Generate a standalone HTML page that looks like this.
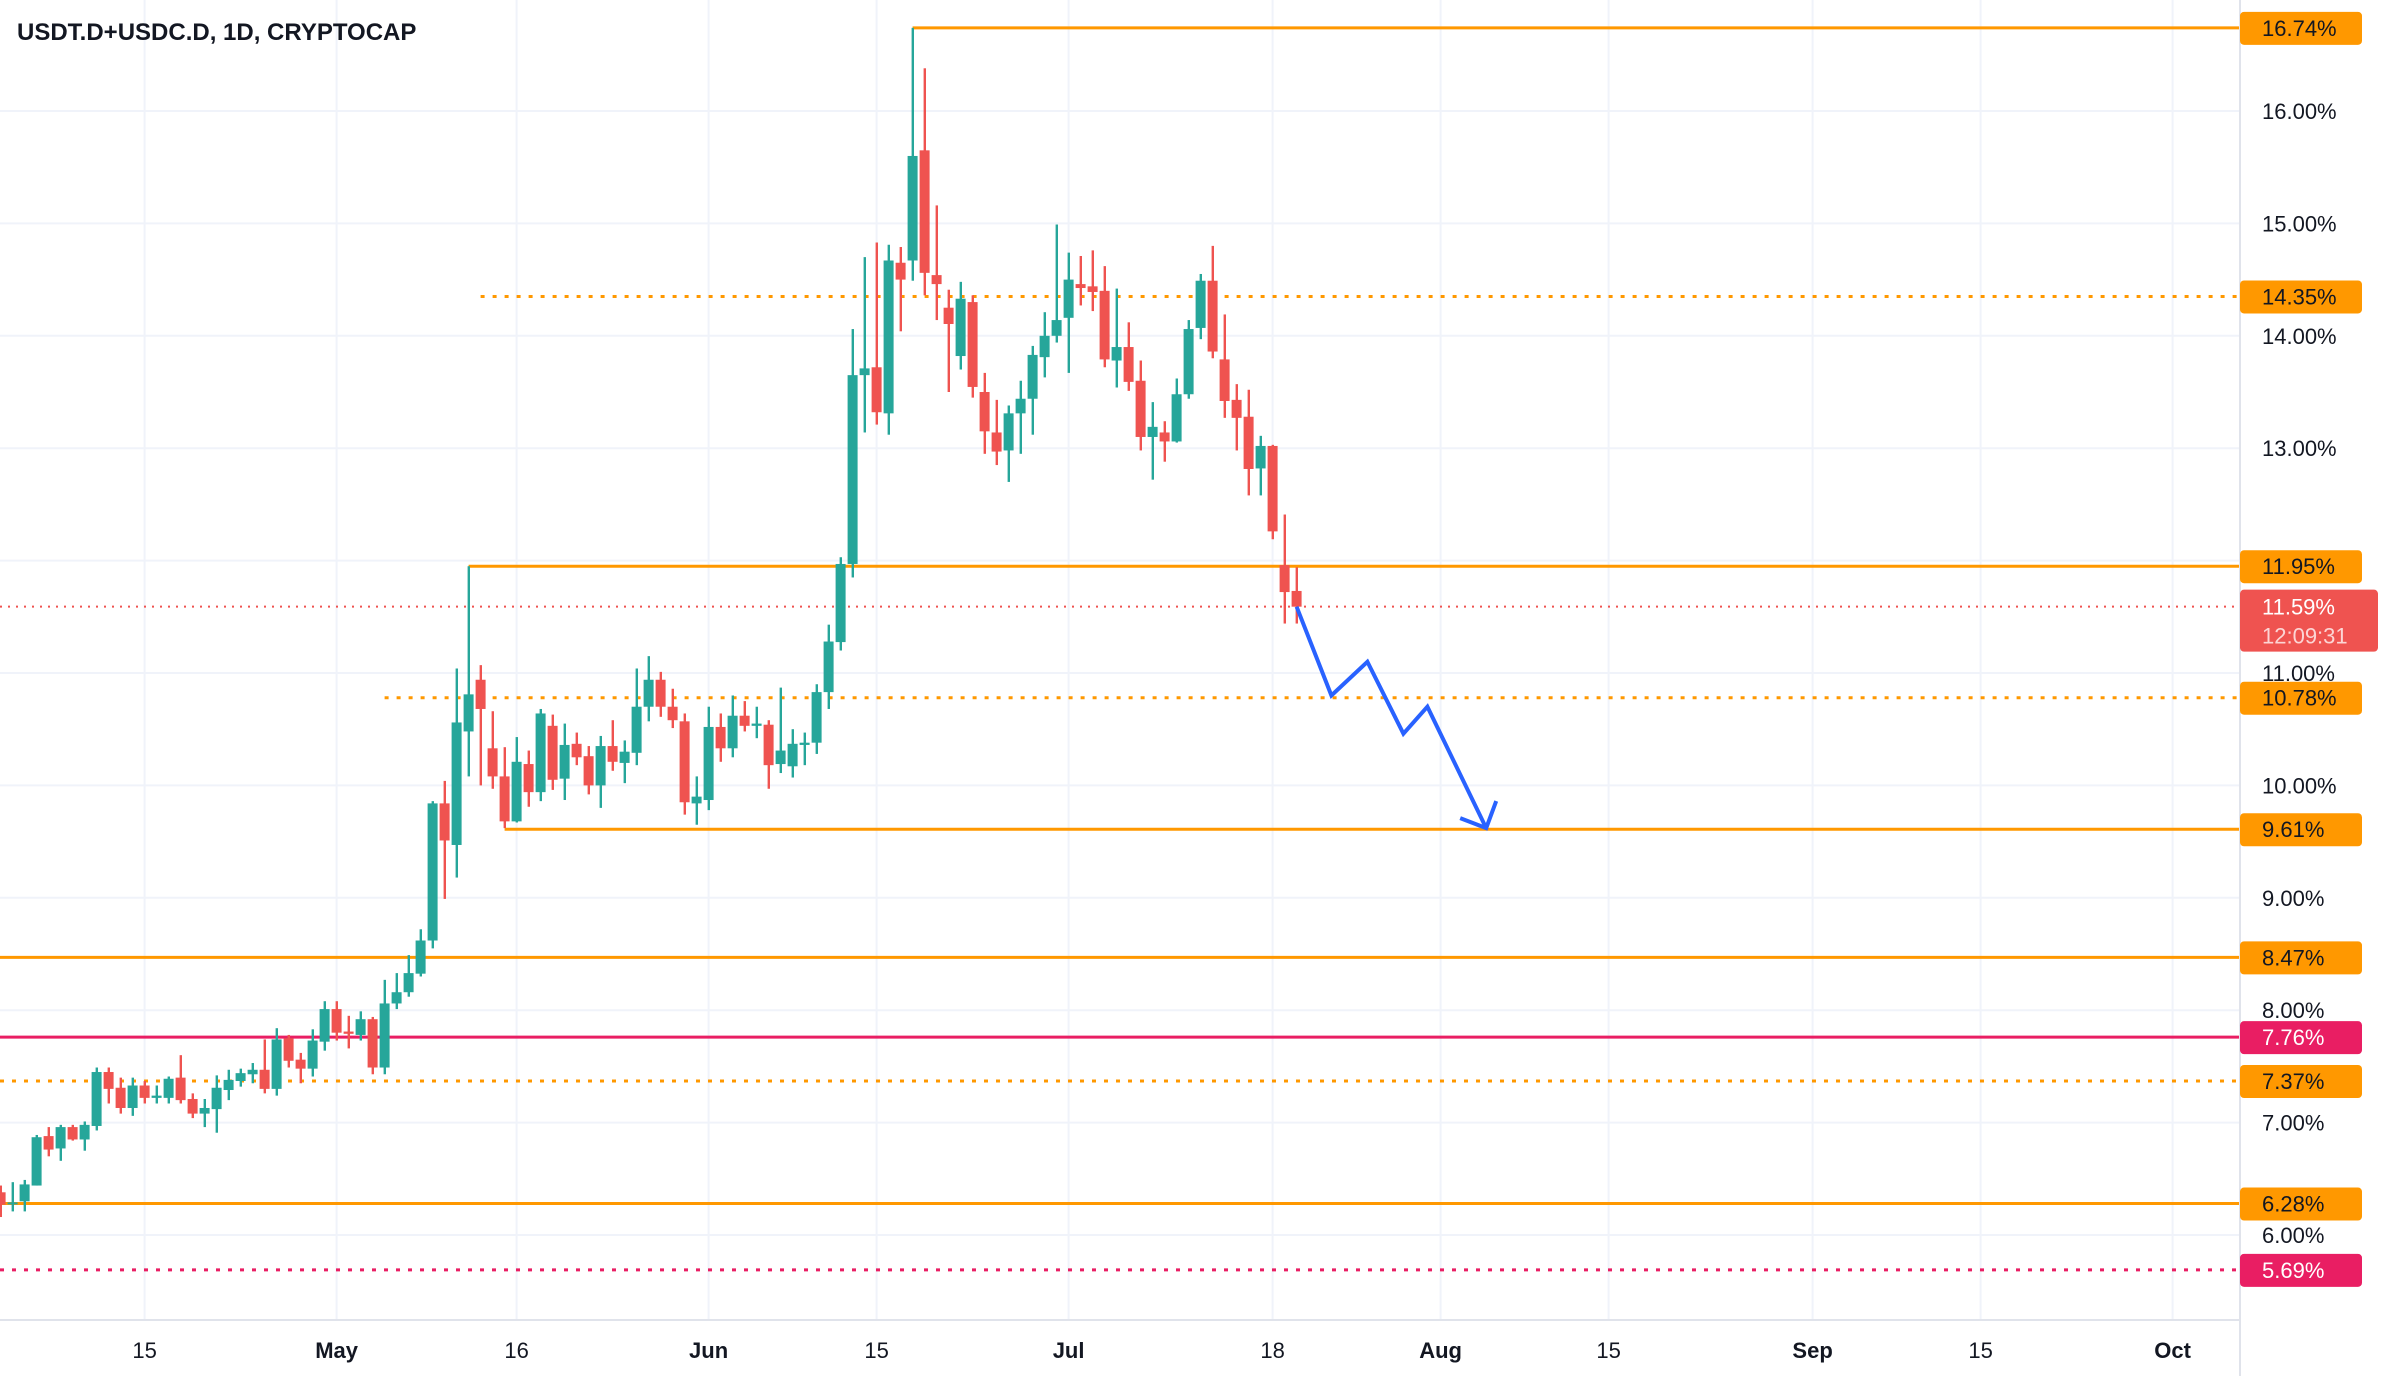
<!DOCTYPE html>
<html><head><meta charset="utf-8"><style>
html,body{margin:0;padding:0;background:#fff;}
svg{display:block;font-family:"Liberation Sans",sans-serif;}
</style></head><body>
<svg id="chart" width="2388" height="1376" viewBox="0 0 2388 1376" xmlns="http://www.w3.org/2000/svg">
<rect x="0" y="0" width="2388" height="1376" fill="#ffffff"/>
<g id="grid"></g>
<g id="levels"></g>
<g id="candles"></g>
<g id="proj"></g>
<line x1="2240" y1="0" x2="2240" y2="1376" stroke="#e0e3eb" stroke-width="2"/>
<line x1="0" y1="1320" x2="2240" y2="1320" stroke="#e0e3eb" stroke-width="2"/>
<g id="yaxis"></g>
<g id="xaxis"></g>
<text x="17" y="40" font-size="24" font-weight="bold" fill="#131722">USDT.D+USDC.D, 1D, CRYPTOCAP</text>
</svg>
<script>
// Daily candles Apr 3 .. Jul 20
const opens=[6.38,6.28,6.30,6.44,6.88,6.77,6.96,6.85,6.97,7.45,7.31,7.13,7.33,7.22,7.22,7.40,7.21,7.08,7.12,7.29,7.37,7.43,7.47,7.30,7.75,7.56,7.48,7.72,8.01,7.81,7.78,7.92,7.49,8.06,8.16,8.325,8.62,9.84,9.47,10.48,10.94,10.33,10.08,9.68,10.19,9.94,10.53,10.06,10.37,10.26,10.00,10.35,10.20,10.29,10.70,10.94,10.70,10.57,9.84,9.87,10.52,10.33,10.62,10.53,10.54,10.19,10.17,10.36,10.38,10.83,11.275,11.97,13.65,13.72,13.31,14.65,14.67,15.65,14.54,14.25,13.82,14.30,13.50,13.14,12.98,13.31,13.44,13.81,14.00,14.16,14.46,14.44,14.40,13.78,13.90,13.60,13.10,13.14,13.06,13.48,14.07,14.49,13.79,13.43,13.28,12.82,13.02,11.96,11.73];
const highs=[6.44,6.47,6.49,6.89,6.96,6.98,6.98,7.01,7.49,7.49,7.40,7.40,7.37,7.33,7.41,7.60,7.26,7.21,7.42,7.47,7.48,7.53,7.74,7.84,7.78,7.62,7.83,8.08,8.08,7.95,7.99,7.94,8.27,8.33,8.49,8.72,9.86,10.04,11.04,11.95,11.07,10.66,10.34,10.43,10.31,10.68,10.63,10.55,10.47,10.35,10.44,10.58,10.40,11.04,11.15,11.01,10.86,10.64,10.08,10.70,10.64,10.80,10.75,10.70,10.58,10.87,10.50,10.47,10.90,11.43,12.03,14.06,14.70,14.83,14.81,14.79,16.74,16.38,15.16,14.41,14.48,14.36,13.67,13.43,13.38,13.60,13.91,14.21,14.99,14.74,14.71,14.76,14.62,14.42,14.12,13.78,13.41,13.24,13.62,14.14,14.55,14.80,14.19,13.57,13.52,13.11,13.03,12.41,11.94];
const lows=[6.16,6.21,6.21,6.44,6.70,6.66,6.84,6.75,6.93,7.17,7.08,7.06,7.17,7.17,7.17,7.17,7.04,6.96,6.91,7.20,7.32,7.35,7.26,7.24,7.49,7.35,7.41,7.64,7.73,7.66,7.73,7.43,7.43,8.01,8.12,8.30,8.55,8.99,9.18,10.08,10.00,9.97,9.62,9.67,9.81,9.86,9.96,9.87,10.18,9.92,9.80,10.13,10.02,10.18,10.57,10.61,10.51,9.74,9.65,9.78,10.21,10.25,10.48,10.42,9.97,10.11,10.07,10.18,10.28,10.68,11.20,11.85,13.14,13.21,13.12,14.04,14.49,14.36,14.14,13.50,13.70,13.45,12.95,12.85,12.70,12.95,13.12,13.63,13.94,13.67,14.27,14.22,13.72,13.54,13.51,12.98,12.72,12.88,13.05,13.44,13.97,13.80,13.27,12.98,12.58,12.58,12.19,11.44,11.44];
const closes=[6.27,6.29,6.45,6.87,6.76,6.96,6.85,6.98,7.45,7.30,7.13,7.33,7.22,7.24,7.39,7.20,7.08,7.13,7.31,7.38,7.44,7.47,7.30,7.74,7.55,7.48,7.73,8.01,7.80,7.79,7.92,7.49,8.06,8.16,8.33,8.62,9.84,9.51,10.56,10.81,10.68,10.08,9.68,10.21,9.94,10.64,10.05,10.36,10.25,10.00,10.35,10.21,10.30,10.70,10.94,10.70,10.58,9.85,9.90,10.52,10.33,10.62,10.53,10.55,10.18,10.31,10.37,10.38,10.83,11.28,11.97,13.65,13.71,13.32,14.67,14.50,15.60,14.56,14.46,14.105,14.33,13.545,13.15,12.97,13.31,13.44,13.83,14.00,14.14,14.50,14.425,14.39,13.79,13.90,13.59,13.10,13.19,13.06,13.48,14.06,14.49,13.86,13.42,13.27,12.815,13.02,12.26,11.72,11.59];
const yTicks=[6,7,8,9,10,11,12,13,14,15,16];
const yTickLabels=["6.00%","7.00%","8.00%","9.00%","10.00%","11.00%","12.00%","13.00%","14.00%","15.00%","16.00%"];
const xTickDays=[-16,0,15,31,45,61,78,92,106,123,137,153];
const xTickLabels=["15","May","16","Jun","15","Jul","18","Aug","15","Sep","15","Oct"];
const xTickBold=[false,true,false,true,false,true,false,true,false,true,false,true];
// levels: value, start day relative to May 1 (null = full width)
const levelValues=[16.74,14.35,11.95,10.78,9.61,8.47,7.76,7.37,6.28,5.69];
const levelStartDays=[48,12,11,4,14,null,null,null,null,null];
const levelDotted=[false,true,false,true,false,false,false,true,false,true];
const levelCrimson=[false,false,false,false,false,false,true,false,false,true];
const projValues=[11.59,10.80,11.10,10.46,10.70,9.62];
const projDays=[80,82.9,85.9,88.9,90.9,95.8];
const currentPrice=11.59;
const firstDay=-28; // Apr 3 relative to May 1

const NS="http://www.w3.org/2000/svg";
const Y=v=>111+(16-v)*112.4;
const X=d=>336.6+12*d;
function mk(tag,attrs,parent){const e=document.createElementNS(NS,tag);for(const k in attrs)e.setAttribute(k,attrs[k]);parent.appendChild(e);return e;}
const grid=document.getElementById('grid'),lv=document.getElementById('levels'),cg=document.getElementById('candles'),pg=document.getElementById('proj'),ya=document.getElementById('yaxis'),xa=document.getElementById('xaxis');

yTicks.forEach((v,i)=>{
  const l=mk('line',{x1:0,x2:2240,y1:Y(v),y2:Y(v),stroke:'#f0f3fa','stroke-width':2},grid);
  
  
  const t=mk('text',{x:2262,y:Y(v)+8,'font-size':22,fill:'#131722'},ya);
  t.textContent=yTickLabels[i];
  
  
});
xTickDays.forEach((d,i)=>{
  const l=mk('line',{x1:X(d),x2:X(d),y1:0,y2:1320,stroke:'#f0f3fa','stroke-width':2},grid);
  
  
  const t=mk('text',{x:X(d),y:1358,'font-size':22,fill:'#131722','text-anchor':'middle','font-weight':xTickBold[i]?'bold':'normal'},xa);
  t.textContent=xTickLabels[i];
  
  
});

levelValues.forEach((v,i)=>{
  const col=levelCrimson[i]?'#E91E63':'#FF9800';
  const x1=levelStartDays[i]===null?0:X(levelStartDays[i]);
  const a={x1:x1,x2:2240,y1:Y(v),y2:Y(v),stroke:col,'stroke-width':3};
  if(levelDotted[i])a['stroke-dasharray']='4 8';
  const l=mk('line',a,lv);
  
  
  const r=mk('rect',{x:2240,y:Y(v)-16,width:122,height:33,rx:4,fill:col},ya);
  
  
  const t=mk('text',{x:2262,y:Y(v)+8,'font-size':22,fill:levelCrimson[i]?'#ffffff':'#131722'},ya);
  t.textContent=v.toFixed(2)+'%';
  
  
});
const cp=mk('line',{x1:0,x2:2240,y1:Y(currentPrice),y2:Y(currentPrice),stroke:'#EF5350','stroke-width':2,'stroke-dasharray':'2 6'},lv);



opens.forEach((o,i)=>{
  const c=closes[i],h=highs[i],lo=lows[i];
  const col=c>=o?'#26A69A':'#EF5350';
  const x=X(firstDay+i);
  const g=mk('g',{},cg);
  
  
  mk('rect',{x:x-1,y:Y(h),width:2.4,height:Math.max(1,Y(lo)-Y(h)),fill:col},g);
  const top=Y(Math.max(o,c)),bh=Math.max(2,Math.abs(Y(o)-Y(c)));
  mk('rect',{x:x-5,y:top,width:10,height:bh,fill:col},g);
});

const pts=projValues.map((v,i)=>X(projDays[i])+','+Y(v)).join(' ');
const pl=mk('polyline',{points:pts,fill:'none',stroke:'#2962FF','stroke-width':4,'stroke-linejoin':'miter'},pg);


const tx=X(projDays[5]),ty=Y(projValues[5]);
const ah=mk('polyline',{points:(tx-26)+','+(ty-10)+' '+tx+','+ty+' '+(tx+10)+','+(ty-27),fill:'none',stroke:'#2962FF','stroke-width':4},pg);



const pr=mk('rect',{x:2240,y:Y(currentPrice)-17,width:138,height:62,rx:4,fill:'#EF5350'},ya);


const t1=mk('text',{x:2262,y:Y(currentPrice)+8,'font-size':22,fill:'#ffffff'},ya);
t1.textContent=currentPrice.toFixed(2)+'%';


const t2=mk('text',{x:2262,y:Y(currentPrice)+37,'font-size':22,fill:'#fcd5d4'},ya);
t2.textContent='12:09:31';


</script>
</body></html>
